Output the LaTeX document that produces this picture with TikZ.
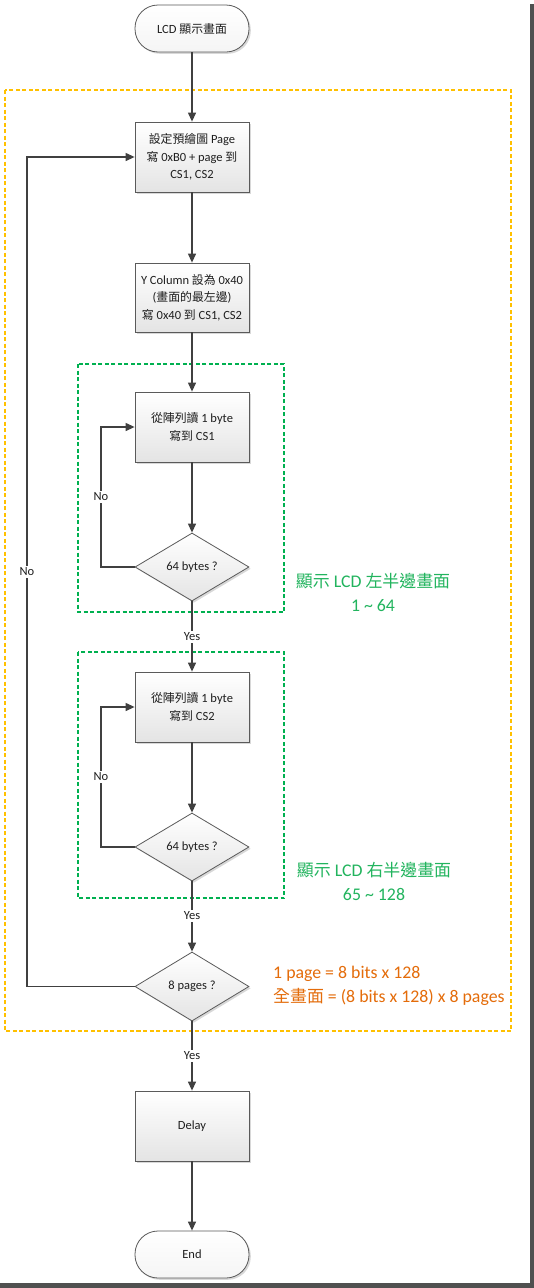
\documentclass[tikz,border=0pt]{standalone}
\usepackage{fontspec}
\setmainfont{Carlito}
\newfontfamily\cjk[Scale=0.95]{Noto Sans CJK TC}
\usetikzlibrary{arrows.meta,shapes.geometric,shadows}
\definecolor{bordergray}{HTML}{5A5A5A}
\definecolor{linegray}{HTML}{404040}
\definecolor{boxbottom}{HTML}{E4E4E4}
\definecolor{goldc}{HTML}{FFC000}
\definecolor{greenc}{HTML}{00B050}
\definecolor{greentext}{HTML}{22B45E}
\definecolor{orangetext}{HTML}{E46C0A}
\definecolor{framegray}{HTML}{505050}
\newcommand{\boxfont}{\fontsize{12.5}{17.5}\selectfont}
\newcommand{\notefont}{\fontsize{17.8}{23.5}\selectfont}
\tikzset{
  base/.style={draw=bordergray, line width=0.8pt, top color=white, bottom color=boxbottom,
    drop shadow={shadow xshift=1.8pt, shadow yshift=-1.8pt, opacity=0.3},
    font=\boxfont, text=black!88, align=center, inner sep=0pt},
  proc/.style={base, rectangle, minimum width=114pt, minimum height=70pt},
  term/.style={base, rectangle, rounded corners=23pt, minimum width=114pt, minimum height=47pt, bottom color=black!4},
  dec/.style={base, diamond, aspect=1.68, minimum width=114pt, minimum height=68pt},
  arr/.style={draw=linegray, line width=1.2pt, -{Triangle[length=9pt,width=8pt]}},
  lbl/.style={fill=white, font=\boxfont, text=black!88, inner sep=1.5pt},
  orangebox/.style={draw=goldc, line width=2pt, dash pattern=on 4pt off 2.5pt},
  greenbox/.style={draw=greenc, line width=2pt, dash pattern=on 4pt off 2.5pt},
}
\begin{document}
\begin{tikzpicture}[x=1pt,y=-1pt]
\useasboundingbox (0,0) rectangle (534,1288);
\fill[white] (0,0) rectangle (534,1288);
% screenshot frame
\fill[framegray] (530,4) rectangle (534,1288);
\fill[framegray] (0,1283) rectangle (534,1288);

% group frames
\draw[orangebox] (5,90) rectangle (511,1031);
\draw[greenbox] (78,364) rectangle (284,612);
\draw[greenbox] (78,652) rectangle (284,898);

% nodes
\node[term] (start) at (192,28.5) {LCD {\cjk 顯示畫面}};
\node[proc] (b1) at (192,157) {{\cjk 設定預繪圖} Page\\{\cjk 寫} 0xB0 + page {\cjk 到}\\CS1, CS2};
\node[proc, minimum height=69pt] (b2) at (192,297.5) {Y Column {\cjk 設為} 0x40\\({\cjk 畫面的最左邊})\\{\cjk 寫} 0x40 {\cjk 到} CS1, CS2};
\node[proc] (b3) at (192,427) {{\cjk 從陣列讀} 1 byte\\{\cjk 寫到} CS1};
\node[dec] (d1) at (192,567) {64 bytes ?};
\node[proc] (b4) at (192,707) {{\cjk 從陣列讀} 1 byte\\{\cjk 寫到} CS2};
\node[dec] (d2) at (192,847) {64 bytes ?};
\node[dec, minimum height=69pt] (d3) at (192,986.5) {8 pages ?};
\node[proc] (delay) at (192,1126) {Delay};
\node[term] (end) at (192,1254.5) {End};

% helper coordinates
\coordinate (l1) at (101,427);
\coordinate (l2) at (101,707);
\coordinate (l3) at (27,157);

% connectors
\draw[arr] (start) -- (b1);
\draw[arr] (b1) -- (b2);
\draw[arr] (b2) -- (b3);
\draw[arr] (b3) -- (d1);
\draw[arr] (d1.west) -| (l1) -- (b3.west);
\draw[arr] (d1) -- (b4);
\draw[arr] (b4) -- (d2);
\draw[arr] (d2.west) -| (l2) -- (b4.west);
\draw[arr] (d2) -- (d3);
\draw[arr] (d3.west) -| (l3) -- (b1.west);
\draw[arr] (d3) -- (delay);
\draw[arr] (delay) -- (end);

% connector labels
\node[lbl] (no1) at (101,497) {No};
\node[lbl] (no2) at (101,777) {No};
\node[lbl] (no3) at (27,572) {No};
\node[lbl] (yes1) at (192,637) {Yes};
\node[lbl] (yes2) at (192,916) {Yes};
\node[lbl] (yes3) at (192,1056) {Yes};

% annotations
\node[font=\notefont, text=greentext, align=center, inner sep=0pt] (g1) at (373,592.5)
  {{\cjk 顯示} LCD {\cjk 左半邊畫面}\\1 \textasciitilde{} 64};
\node[font=\notefont, text=greentext, align=center, inner sep=0pt] (g2) at (374,881.5)
  {{\cjk 顯示} LCD {\cjk 右半邊畫面}\\65 \textasciitilde{} 128};
\node[font=\notefont, text=orangetext, align=left, inner sep=0pt, anchor=west] (o1) at (273,986)
  {1 page = 8 bits x 128\\{\cjk 全畫面} = (8 bits x 128) x 8 pages};
\end{tikzpicture}
\end{document}
